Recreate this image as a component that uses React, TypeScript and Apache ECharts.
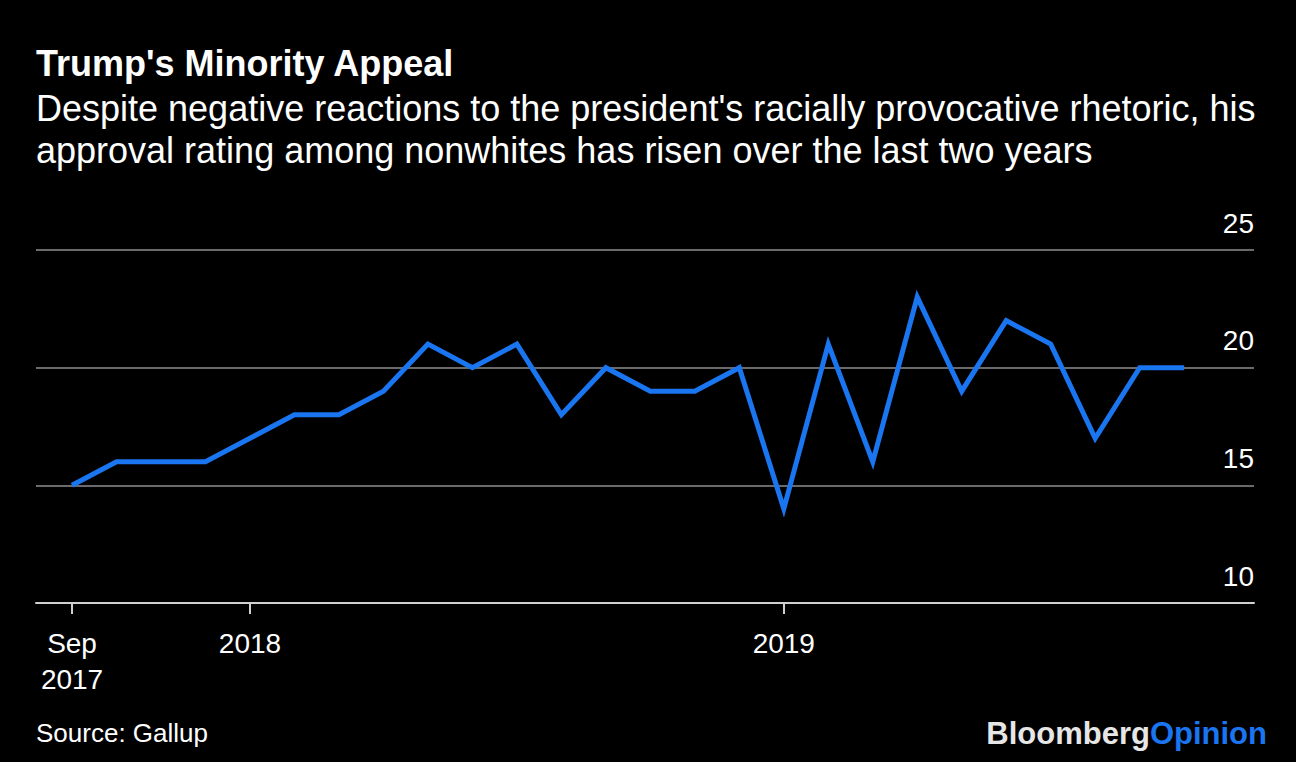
import React, { useEffect, useRef } from "react";
import * as echarts from "echarts";

const months: string[] = [
  "2017-09", "2017-10", "2017-11", "2017-12",
  "2018-01", "2018-02", "2018-03", "2018-04", "2018-05", "2018-06",
  "2018-07", "2018-08", "2018-09", "2018-10", "2018-11", "2018-12",
  "2019-01", "2019-02", "2019-03", "2019-04", "2019-05", "2019-06",
  "2019-07", "2019-08", "2019-09", "2019-10",
];
const approval: number[] = [
  15, 16, 16, 16, 17, 18, 18, 19, 21, 20, 21, 18, 20, 19, 19, 20,
  14, 21, 16, 23, 19, 22, 21, 17, 20, 20,
];
const tickIndices: number[] = [0, 4, 16];
const tickLabels: string[] = ["Sep\n2017", "2018", "2019"];
const yTicks: number[] = [10, 15, 20, 25];

const FONT = "'Liberation Sans', Arial, Helvetica, sans-serif";

export default function App() {
  const ref = useRef<HTMLDivElement>(null);
  useEffect(() => {
    if (!ref.current) return;
    const chart = echarts.init(ref.current, undefined, { renderer: "svg" });
    const data = approval.map((v, i) => [i, v]);
    chart.setOption({
      animation: false,
      backgroundColor: "#000000",
      textStyle: { fontFamily: FONT },
      grid: { left: 36, right: 42, top: 250, bottom: 159 },
      xAxis: {
        type: "value",
        min: -0.81,
        max: 26.57,
        splitLine: { show: false },
        axisLine: { show: true, lineStyle: { color: "#d0d0d0", width: 2 } },
        axisTick: {
          show: true,
          customValues: tickIndices,
          length: 11,
          lineStyle: { color: "#d0d0d0", width: 2 },
        },
        axisLabel: {
          customValues: tickIndices,
          color: "#ffffff",
          fontSize: 28,
          lineHeight: 36,
          margin: 22,
          fontFamily: FONT,
          formatter: (v: number) => {
            const k = tickIndices.indexOf(Math.round(v));
            return k >= 0 ? tickLabels[k] : "";
          },
        },
      },
      yAxis: {
        type: "value",
        position: "right",
        min: 10,
        max: 25,
        interval: 5,
        axisLine: { show: false },
        axisTick: { show: false },
        splitLine: { show: true, lineStyle: { color: "#6a6a6a", width: 2 } },
        axisLabel: {
          inside: true,
          margin: 0,
          color: "#ffffff",
          fontSize: 28,
          fontFamily: FONT,
          verticalAlign: "bottom",
          padding: [0, 0, 13, 0],
          formatter: (v: number) => (yTicks.indexOf(v) >= 0 ? String(v) : ""),
        },
      },
      series: [
        {
          type: "line",
          data,
          showSymbol: false,
          lineStyle: { color: "#1a75f0", width: 5, join: "miter" },
          z: 5,
        },
      ],
      graphic: [
        {
          type: "text",
          left: 36,
          top: 43,
          style: {
            text: "Trump's Minority Appeal",
            fill: "#ffffff",
            font: `bold 36px ${FONT}`,
            lineHeight: 40,
          },
        },
        {
          type: "text",
          left: 36,
          top: 87,
          style: {
            text:
              "Despite negative reactions to the president's racially provocative rhetoric, his\napproval rating among nonwhites has risen over the last two years",
            fill: "#ffffff",
            font: `36px ${FONT}`,
            lineHeight: 42,
          },
        },
        {
          type: "text",
          left: 36,
          top: 720,
          style: {
            text: "Source: Gallup",
            fill: "#ffffff",
            font: `26px ${FONT}`,
          },
        },
        {
          type: "text",
          right: 29,
          top: 718,
          style: {
            text: "{a|Bloomberg}{b|Opinion}",
            rich: {
              a: { fill: "#e6e6e6", font: `bold 31px ${FONT}` },
              b: { fill: "#1a75f0", font: `bold 31px ${FONT}` },
            },
          },
        },
      ],
    });
    return () => chart.dispose();
  }, []);
  return (
    <div
      ref={ref}
      style={{ position: "fixed", left: 0, top: 0, width: 1296, height: 762, background: "#000" }}
    />
  );
}
